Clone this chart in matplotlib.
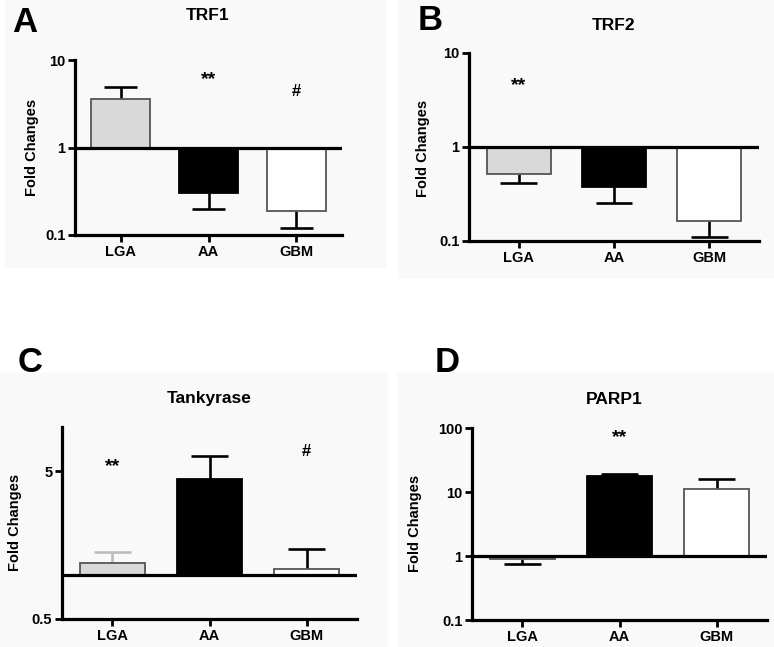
import numpy as np
import matplotlib
matplotlib.use('Agg')
import matplotlib.pyplot as plt
from matplotlib.patches import Rectangle

plt.rcParams['font.family'] = ['Liberation Sans', 'DejaVu Sans']
plt.rcParams['font.weight'] = 'bold'

cats = ['LGA', 'AA', 'GBM']

trf1 = [3.6, 0.30, 0.19]
trf1_err = [1.3, 0.10, 0.07]

trf2 = [0.51, 0.38, 0.163]
trf2_err = [0.10, 0.124, 0.053]

tank = [1.19, 4.46, 1.09]
tank_err = [0.23, 1.86, 0.40]

parp1 = [0.91, 17.6, 11.3]
parp1_err = [0.15, 1.8, 4.9]

fills = ['#d9d9d9', '#000000', '#ffffff']
edges = ['#555555', '#000000', '#555555']

W, H = 774, 647
fig = plt.figure(figsize=(W / 100, H / 100), dpi=100)
fig.patch.set_facecolor('white')

# faint grey backing behind each panel
for (x0, y0, x1, y1) in [(5, 0, 385, 267), (398, 0, 774, 277),
                         (0, 373, 387, 647), (398, 373, 774, 647)]:
    fig.patches.append(Rectangle((x0 / W, 1 - y1 / H), (x1 - x0) / W, (y1 - y0) / H,
                                 transform=fig.transFigure, color='#f9f9f9', zorder=-10))


def px_axes(left, top, right, bottom):
    return fig.add_axes([left / W, 1 - bottom / H, (right - left) / W, (bottom - top) / H])


def panel(ax, vals, errs, ylim, yticks, ylabels, err_colors=None):
    x = np.arange(len(cats))
    vals = np.array(vals)
    errs = np.array(errs)
    ax.set_yscale('log')
    ax.bar(x, vals - 1, bottom=1, width=0.67, color=fills, edgecolor=edges,
           linewidth=1.3, zorder=2)
    if err_colors is None:
        err_colors = ['black'] * len(cats)
    # one-sided error bars, pointing away from the 1-line
    ends = np.where(vals < 1, vals - errs, vals + errs)
    for i in range(len(cats)):
        ax.vlines(x[i], vals[i], ends[i], color=err_colors[i], lw=1.9, zorder=1)
        ax.hlines(ends[i], x[i] - 0.19, x[i] + 0.19, color=err_colors[i], lw=1.9, zorder=1)
    ax.axhline(1, color='black', lw=2.3, zorder=3)
    ax.set_ylim(*ylim)
    ax.set_xlim(-0.52, 2.52)
    ax.set_yticks(yticks)
    ax.set_yticklabels(ylabels)
    ax.yaxis.set_minor_locator(matplotlib.ticker.NullLocator())
    ax.set_xticks(x)
    ax.set_xticklabels(cats)
    for s in ['top', 'right']:
        ax.spines[s].set_visible(False)
    for s in ['left', 'bottom']:
        ax.spines[s].set_linewidth(2.3)
    ax.tick_params(axis='both', width=2, length=5, labelsize=10.5, pad=2)
    for t in ax.get_xticklabels() + ax.get_yticklabels():
        t.set_fontweight('bold')
    ax.patch.set_alpha(0)


def ftext(x, y, s, **kw):
    fig.text(x / W, 1 - y / H, s, ha='center', va='center', fontweight='bold', **kw)


# A: TRF1
axA = px_axes(75, 60, 342, 235)
panel(axA, trf1, trf1_err, (0.1, 10), [0.1, 1, 10], ['0.1', '1', '10'])
axA.text(1, 6.0, '**', ha='center', va='center', fontsize=14, fontweight='bold')
axA.text(2, 4.4, '#', ha='center', va='center', fontsize=12, fontweight='bold')

# B: TRF2
axB = px_axes(469, 53, 759, 241)
panel(axB, trf2, trf2_err, (0.1, 10), [0.1, 1, 10], ['0.1', '1', '10'])
axB.text(0, 4.5, '**', ha='center', va='center', fontsize=14, fontweight='bold')

# C: Tankyrase
axC = px_axes(62, 427, 357, 619)
panel(axC, tank, tank_err, (0.5, 10), [0.5, 5], ['0.5', '5'],
      err_colors=['#bdbdbd', 'black', 'black'])
axC.text(0, 5.4, '**', ha='center', va='center', fontsize=14, fontweight='bold')
axC.text(2, 6.8, '#', ha='center', va='center', fontsize=12, fontweight='bold')

# D: PARP1
axD = px_axes(472, 428, 767, 620)
panel(axD, parp1, parp1_err, (0.1, 100), [0.1, 1, 10, 100], ['0.1', '1', '10', '100'])
axD.text(1, 72, '**', ha='center', va='center', fontsize=14, fontweight='bold')

# titles, labels, panel letters
ftext(208, 16, 'TRF1', fontsize=12.5)
ftext(614, 25, 'TRF2', fontsize=12.5)
ftext(209, 399, 'Tankyrase', fontsize=12.5)
ftext(614, 399, 'PARP1', fontsize=12.5)

ftext(32, 147, 'Fold Changes', fontsize=10.5, rotation=90)
ftext(423, 148, 'Fold Changes', fontsize=10.5, rotation=90)
ftext(15, 522, 'Fold Changes', fontsize=10.5, rotation=90)
ftext(415, 523, 'Fold Changes', fontsize=10.5, rotation=90)

ftext(25, 22, 'A', fontsize=25)
ftext(430, 20, 'B', fontsize=25)
ftext(30, 363, 'C', fontsize=25)
ftext(447, 362, 'D', fontsize=25)

fig.savefig('out.png', dpi=100)
